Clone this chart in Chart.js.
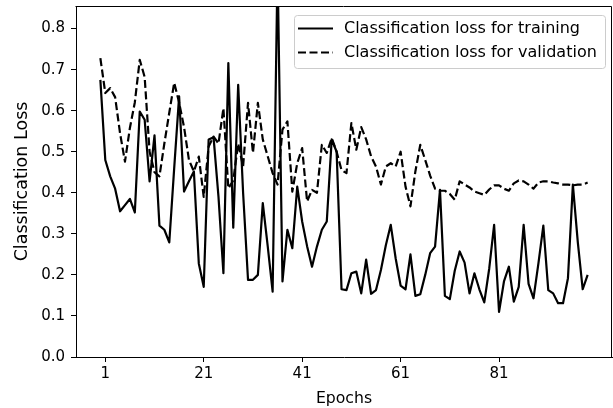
<!DOCTYPE html>
<html><head><meta charset="utf-8">
<script src="https://cdn.jsdelivr.net/npm/chart.js@4.4.0/dist/chart.umd.min.js"></script>
<style>html,body{margin:0;padding:0;background:#fff;overflow:hidden}</style>
</head><body>
<canvas id="c" width="613" height="408" style="display:block;width:613px;height:408px"></canvas>
<script>
const epochs = [0,1,2,3,4,5,6,7,8,9,10,11,12,13,14,15,16,17,18,19,20,21,22,23,24,25,26,27,28,29,30,31,32,33,34,35,36,37,38,39,40,41,42,43,44,45,46,47,48,49,50,51,52,53,54,55,56,57,58,59,60,61,62,63,64,65,66,67,68,69,70,71,72,73,74,75,76,77,78,79,80,81,82,83,84,85,86,87,88,89,90,91,92,93,94,95,96,97,98,99];
const trainingLoss = [0.675,0.48,0.44,0.41,0.355,0.37,0.385,0.352,0.598,0.578,
  0.428,0.54,0.32,0.31,0.279,0.46,0.635,0.403,0.428,0.452,
  0.228,0.171,0.53,0.535,0.39,0.204,0.716,0.315,0.663,0.40,
  0.188,0.188,0.20,0.375,0.27,0.159,0.95,0.184,0.31,0.265,
  0.415,0.33,0.27,0.22,0.269,0.31,0.33,0.53,0.50,0.165,
  0.163,0.204,0.208,0.155,0.237,0.154,0.163,0.212,0.272,0.322,
  0.24,0.174,0.165,0.25,0.149,0.153,0.2,0.253,0.269,0.407,
  0.149,0.141,0.21,0.257,0.23,0.155,0.204,0.165,0.133,0.215,
  0.322,0.11,0.184,0.22,0.135,0.171,0.322,0.178,0.143,0.228,
  0.32,0.163,0.155,0.131,0.131,0.192,0.42,0.28,0.165,0.2];
const validationLoss = [0.728,0.643,0.655,0.633,0.545,0.476,0.558,0.62,0.724,0.682,
  0.50,0.45,0.44,0.52,0.595,0.668,0.62,0.56,0.48,0.452,
  0.488,0.39,0.513,0.537,0.52,0.606,0.411,0.43,0.52,0.464,
  0.619,0.497,0.619,0.53,0.489,0.448,0.42,0.554,0.574,0.403,
  0.472,0.509,0.379,0.407,0.40,0.517,0.497,0.533,0.50,0.455,
  0.448,0.57,0.505,0.56,0.53,0.489,0.464,0.42,0.464,0.472,
  0.464,0.50,0.415,0.367,0.452,0.517,0.48,0.442,0.41,0.405,
  0.405,0.397,0.383,0.428,0.42,0.413,0.403,0.399,0.395,0.408,
  0.418,0.418,0.41,0.405,0.423,0.43,0.428,0.42,0.41,0.425,
  0.428,0.428,0.425,0.423,0.42,0.42,0.418,0.42,0.42,0.425];
const xTickValues = [1,21,41,61,81];
const yTickValues = [0,0.1,0.2,0.3,0.4,0.5,0.6,0.7,0.8];
const seriesLabels = ['Classification loss for training','Classification loss for validation'];
const xTitle = 'Epochs';
const yTitle = 'Classification Loss';

const FONT = 'DejaVu Sans';
const FS = 15;

const framePlugin = {
  id:'frame',
  afterDraw(chart){
    const {ctx, chartArea:a} = chart;
    ctx.save();
    ctx.strokeStyle='#000'; ctx.lineWidth=1;
    ctx.beginPath();
    ctx.moveTo(Math.round(a.left)-0.5, Math.round(a.top)+0.5);
    ctx.lineTo(Math.round(a.right)-0.5, Math.round(a.top)+0.5);
    ctx.lineTo(Math.round(a.right)-0.5, Math.round(a.bottom));
    ctx.stroke();
    ctx.restore();
  }
};

const legendPlugin = {
  id:'mplLegend',
  afterDraw(chart){
    const ctx = chart.ctx;
    const x0=294.5, y0=15.5, w=311, h=53, r=3;
    ctx.save();
    ctx.beginPath();
    ctx.moveTo(x0+r,y0);
    ctx.lineTo(x0+w-r,y0); ctx.arcTo(x0+w,y0,x0+w,y0+r,r);
    ctx.lineTo(x0+w,y0+h-r); ctx.arcTo(x0+w,y0+h,x0+w-r,y0+h,r);
    ctx.lineTo(x0+r,y0+h); ctx.arcTo(x0,y0+h,x0,y0+h-r,r);
    ctx.lineTo(x0,y0+r); ctx.arcTo(x0,y0,x0+r,y0,r);
    ctx.closePath();
    ctx.fillStyle='rgba(255,255,255,0.8)'; ctx.fill();
    ctx.strokeStyle='#cccccc'; ctx.lineWidth=1; ctx.stroke();
    const rows=[28.5,52.5];
    chart.data.datasets.forEach((ds,i)=>{
      ctx.beginPath();
      ctx.setLineDash(ds.borderDash||[]);
      ctx.strokeStyle=ds.borderColor; ctx.lineWidth=ds.borderWidth;
      ctx.moveTo(298,rows[i]); ctx.lineTo(333,rows[i]); ctx.stroke();
      ctx.setLineDash([]);
      ctx.fillStyle='#000'; ctx.font='16px "'+FONT+'"';
      ctx.textBaseline='middle'; ctx.textAlign='left';
      ctx.fillText(ds.label,344,rows[i]);
    });
    ctx.restore();
  }
};

new Chart(document.getElementById('c').getContext('2d'), {
  type:'line',
  data:{datasets:[
    {label:seriesLabels[0], data:epochs.map((e,i)=>({x:e,y:trainingLoss[i]})),
     borderColor:'#000', borderWidth:2.2, pointRadius:0, tension:0, fill:false, borderJoinStyle:'round'},
    {label:seriesLabels[1], data:epochs.map((e,i)=>({x:e,y:validationLoss[i]})),
     borderColor:'#000', borderWidth:2.2, borderDash:[8,3.5], pointRadius:0, tension:0, fill:false, borderJoinStyle:'round'}
  ]},
  options:{
    responsive:false, animation:false, devicePixelRatio:1,
    layout:{padding:{left:0,right:1,top:6,bottom:0}},
    plugins:{legend:{display:false}, tooltip:{enabled:false}},
    scales:{
      x:{type:'linear', min:-4.95, max:103.95,
        afterBuildTicks:s=>{s.ticks=xTickValues.map(v=>({value:v}));},
        afterFit:s=>{s.height=51; s.paddingLeft=0; s.paddingRight=0;},
        grid:{drawOnChartArea:false, drawTicks:true, tickLength:5, color:'#000', tickColor:'#000', lineWidth:1},
        border:{display:true,color:'#000',width:1},
        ticks:{color:'#000', font:{family:FONT,size:FS}, padding:3, maxRotation:0, autoSkip:false, callback:v=>String(v)},
        title:{display:true,text:xTitle,color:'#000',font:{family:FONT,size:15.7},padding:{top:0,bottom:0}}
      },
      y:{type:'linear', min:0, max:0.855,
        afterBuildTicks:s=>{s.ticks=yTickValues.map(v=>({value:v}));},
        afterFit:s=>{s.width=76; s.paddingTop=0; s.paddingBottom=0;},
        grid:{drawOnChartArea:false, drawTicks:true, tickLength:5, color:'#000', tickColor:'#000', lineWidth:1},
        border:{display:true,color:'#000',width:1},
        ticks:{color:'#000', font:{family:FONT,size:FS}, padding:6, autoSkip:false, callback:v=>Number(v).toFixed(1)},
        title:{display:true,text:yTitle,color:'#000',font:{family:FONT,size:17.5},padding:{top:11.5,bottom:0}}
      }
    }
  },
  plugins:[framePlugin, legendPlugin]
});
</script>
</body></html>
